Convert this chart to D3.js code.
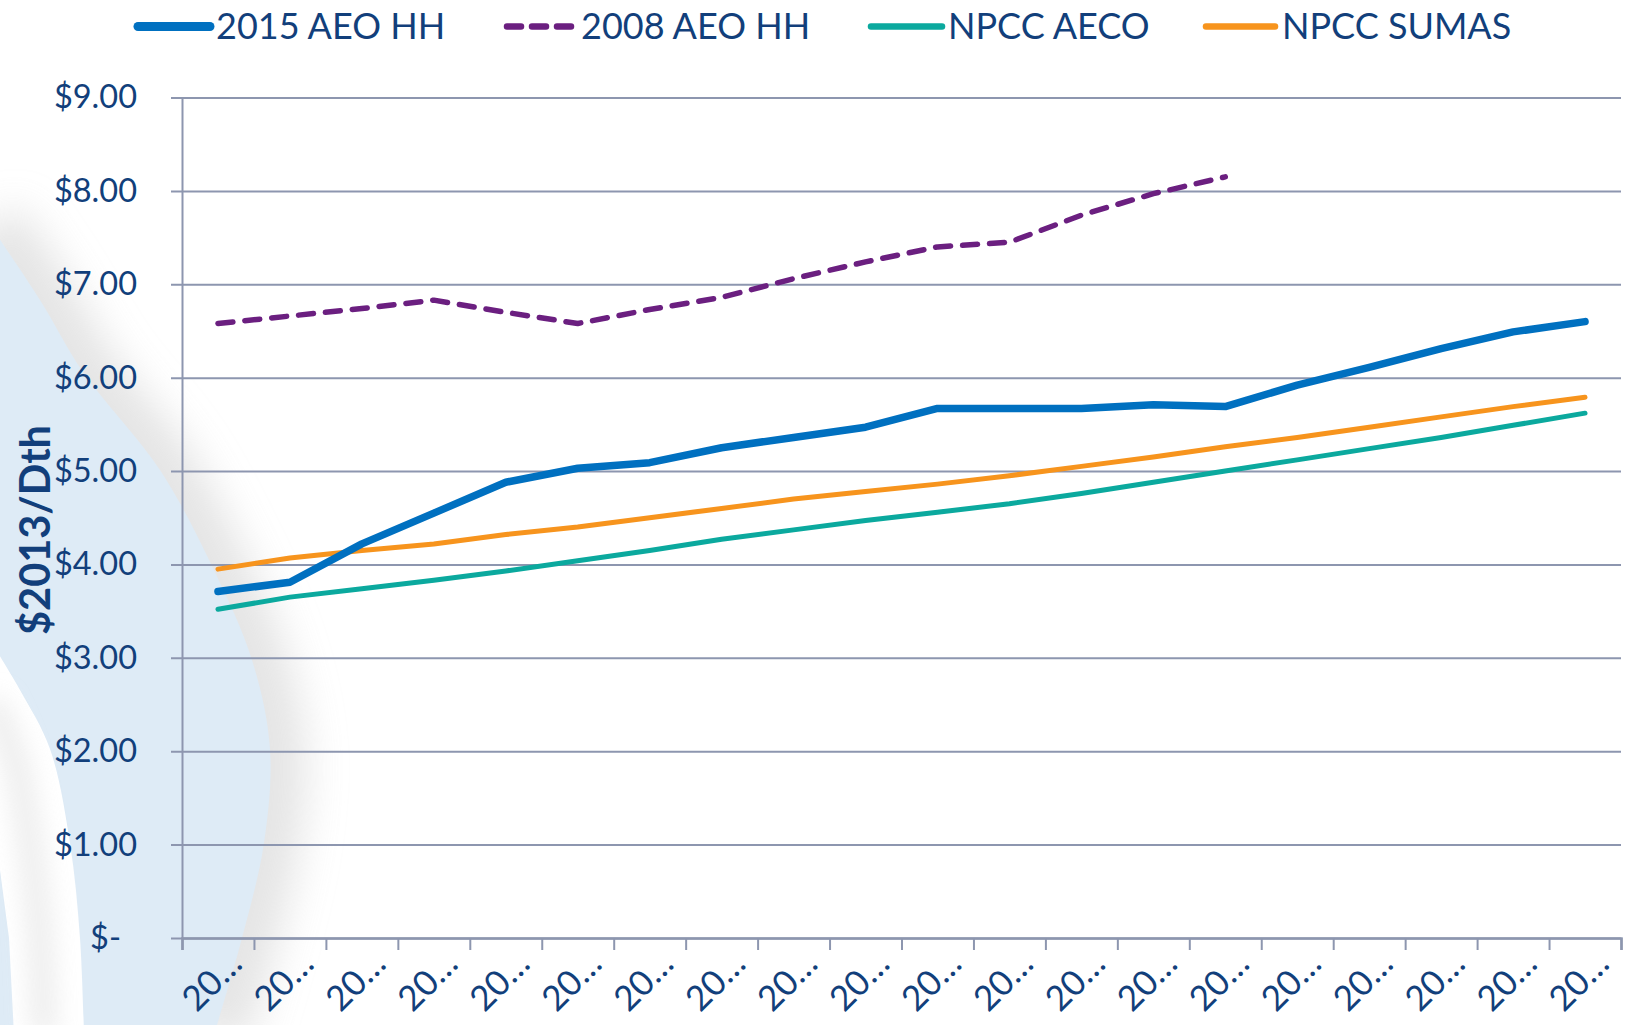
<!DOCTYPE html>
<html>
<head>
<meta charset="utf-8">
<script src="https://cdn.jsdelivr.net/npm/d3@7"></script>
<style>
  body { margin: 0; background: #ffffff; }
  svg { display: block; font-family: Lato, "Liberation Sans", Arial, sans-serif; }
</style>
</head>
<body>
<svg id="chart" width="1626" height="1025"></svg>
<script>
// ---------------- DATA ----------------
const categories = ["2015","2016","2017","2018","2019","2020","2021","2022","2023","2024",
                    "2025","2026","2027","2028","2029","2030","2031","2032","2033","2034"];
const aeo2015HH = [3.71,3.81,4.22,4.55,4.88,5.03,5.09,5.25,5.36,5.47,
                   5.67,5.67,5.67,5.71,5.69,5.92,6.11,6.31,6.49,6.60];
const aeo2008HH = [6.58,6.66,6.74,6.83,6.70,6.58,6.73,6.86,7.06,7.24,
                   7.40,7.45,7.74,7.97,8.15];
const npccAECO  = [3.52,3.65,3.74,3.83,3.93,4.04,4.15,4.27,4.37,4.47,
                   4.56,4.65,4.76,4.88,5.00,5.12,5.24,5.36,5.49,5.62];
const npccSUMAS = [3.95,4.07,4.15,4.22,4.32,4.40,4.50,4.60,4.70,4.78,
                   4.86,4.95,5.05,5.15,5.26,5.36,5.47,5.58,5.69,5.79];
const seriesNames = ["2015 AEO HH","2008 AEO HH","NPCC AECO","NPCC SUMAS"];
const yTickValues = [0,1,2,3,4,5,6,7,8,9];
const yTickLabels = ["$-","$1.00","$2.00","$3.00","$4.00","$5.00","$6.00","$7.00","$8.00","$9.00"];
const yAxisTitle = "$2013/Dth";

// ---------------- STYLES ----------------
const textColor = "#123F7B";
const gridColor = "#8D96AF";
const styles = [
  { color: "#0070C0", width: 7.5, dash: null },
  { color: "#6B1F80", width: 5.5, dash: "15 12" },
  { color: "#0BA99E", width: 5,   dash: null },
  { color: "#F7941D", width: 5,   dash: null }
];
const seriesData = [aeo2015HH, aeo2008HH, npccAECO, npccSUMAS];

const plot = { left: 182, right: 1621, top: 97.5, bottom: 938 };
const svg = d3.select("#chart");

// ---------------- BACKGROUND SWOOSH ----------------
const defs = svg.append("defs");
defs.append("filter").attr("id", "soft").attr("x", "-100%").attr("y", "-100%")
  .attr("width", "300%").attr("height", "300%")
  .append("feGaussianBlur").attr("stdDeviation", 20);
defs.append("filter").attr("id", "soft2").attr("x", "-100%").attr("y", "-100%")
  .attr("width", "300%").attr("height", "300%")
  .append("feGaussianBlur").attr("stdDeviation", 12);

const bg = svg.append("g");
const cr = d3.line().curve(d3.curveCatmullRom.alpha(0.5));
const blueEdge = [[-10,225],[40,300],[83,372],[160,470],[212,566],[252,660],[270,749],[264,843],[242,938],[214,1035]];
bg.append("path").attr("d", cr(blueEdge)).attr("fill", "none")
  .attr("stroke", "#dcdcdc").attr("stroke-width", 70).attr("filter", "url(#soft)").attr("opacity", 0.75);
bg.append("path").attr("d", cr(blueEdge) + "L-10,1035Z").attr("fill", "#DEEBF6");

const whiteEdge = [[-10,640],[20,690],[50,749],[70,843],[80,938],[84,1035]];
const whiteInner = [[14,1035],[9,938],[0,870],[-10,840]];
bg.append("path").attr("d", cr(whiteEdge) + "L" + whiteInner.map(p => p.join(",")).join("L") + "Z")
  .attr("fill", "#ffffff");
bg.append("path").attr("d", cr([[-10,700],[15,760],[30,843],[40,938],[44,1035]])).attr("fill", "none")
  .attr("stroke", "#e6e6e6").attr("stroke-width", 26).attr("filter", "url(#soft2)").attr("opacity", 0.7);

// ---------------- SCALES ----------------
const x = d3.scaleBand().domain(categories).range([plot.left, plot.right]).padding(0);
const xEdge = d3.scaleLinear().domain([0, categories.length]).range([plot.left, plot.right]);
const y = d3.scaleLinear().domain([0, 9]).range([plot.bottom, plot.top]);
const cx = c => x(c) + x.bandwidth() / 2;

// ---------------- GRIDLINES ----------------
const grid = svg.append("g").attr("transform", `translate(${plot.left - 11},0)`)
  .call(d3.axisRight(y).tickValues(yTickValues).tickSize(plot.right - plot.left + 11).tickFormat(""));
grid.select(".domain").remove();
grid.selectAll(".tick line").attr("stroke", gridColor).attr("stroke-width", 2);

// Y axis line + labels
const yAxis = svg.append("g").attr("transform", `translate(${plot.left},0)`)
  .call(d3.axisLeft(y).tickValues(yTickValues).tickSize(0).tickPadding(45)
    .tickFormat((d, i) => yTickLabels[i]));
yAxis.select(".domain").attr("stroke", gridColor).attr("stroke-width", 2);
yAxis.selectAll(".tick text").attr("fill", textColor).attr("font-size", 32.5)
  .attr("font-family", "Lato, 'Liberation Sans', sans-serif")
  .attr("dx", d => d === 0 ? -16 : 0);

// X axis with ticks at category boundaries
const xAxis = svg.append("g").attr("transform", `translate(0,${plot.bottom})`)
  .call(d3.axisBottom(xEdge).tickValues(d3.range(0, categories.length + 1)).tickSize(12).tickFormat(""));
xAxis.select(".domain").attr("stroke", gridColor).attr("stroke-width", 2.5);
xAxis.selectAll(".tick line").attr("stroke", gridColor).attr("stroke-width", 2);

// X labels (truncated by the original chart to "20…")
svg.append("g").selectAll("text").data(categories).join("text")
  .attr("transform", d => `translate(${cx(d) + 26},${plot.bottom + 28}) rotate(-45)`)
  .attr("text-anchor", "end")
  .attr("fill", textColor).attr("font-size", 35)
  .text(d => d.slice(0, 2) + "…");

// Y axis title
svg.append("text")
  .attr("transform", `translate(50,530) rotate(-90)`)
  .attr("text-anchor", "middle")
  .attr("fill", textColor).attr("font-size", 42).attr("font-weight", 700)
  .attr("textLength", 210).attr("lengthAdjust", "spacingAndGlyphs")
  .text(yAxisTitle);

// ---------------- LINES ----------------
const line = d3.line().x(d => cx(d.c)).y(d => y(d.v));
const lines = svg.append("g");
seriesData.forEach((vals, i) => {
  const pts = vals.map((v, j) => ({ c: categories[j], v }));
  const s = styles[i];
  lines.append("path").datum(pts).attr("d", line)
    .attr("fill", "none").attr("stroke", s.color).attr("stroke-width", s.width)
    .attr("stroke-linejoin", "round").attr("stroke-linecap", "round")
    .attr("stroke-dasharray", s.dash);
});
lines.selectAll("path").filter((d, i) => i === 0).raise();

// ---------------- LEGEND ----------------
const legendPos = [
  { x1: 138, x2: 210, tx: 216 },
  { x1: 507, x2: 572, tx: 581 },
  { x1: 871, x2: 942, tx: 948 },
  { x1: 1206, x2: 1275, tx: 1282 }
];
const legend = svg.append("g");
seriesNames.forEach((name, i) => {
  const s = styles[i], p = legendPos[i];
  legend.append("line").attr("x1", p.x1).attr("x2", p.x2).attr("y1", 26.5).attr("y2", 26.5)
    .attr("stroke", s.color).attr("stroke-width", i === 0 ? 9 : 6.5)
    .attr("stroke-linecap", "round")
    .attr("stroke-dasharray", s.dash ? "14 11" : null);
  legend.append("text").attr("x", p.tx).attr("y", 39).attr("fill", textColor)
    .attr("font-size", 36).text(name);
});
</script>
</body>
</html>
